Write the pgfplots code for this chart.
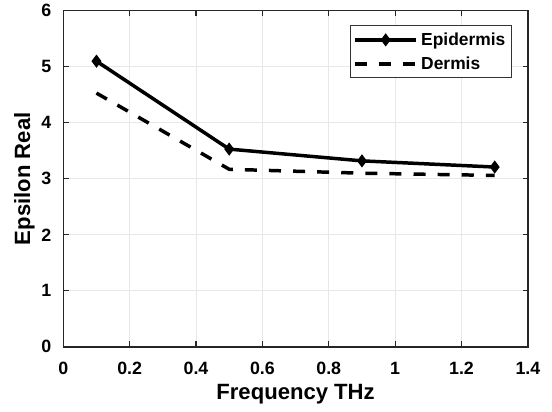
\documentclass[border=0pt]{standalone}
\usepackage{fontspec}
\setmainfont{Liberation Sans}
\usepackage{pgfplots}
\pgfplotsset{compat=1.18}
\begin{document}
\begin{tikzpicture}
\begin{axis}[
  scale only axis,
  width=347pt, height=251pt,
  xmin=0, xmax=1.4, ymin=0, ymax=6,
  xtick={0,0.2,0.4,0.6,0.8,1,1.2,1.4}, ytick={0,1,2,3,4,5,6},
  xticklabels={0,0.2,0.4,0.6,0.8,1,1.2,1.4},
  yticklabels={0,1,2,3,4,5,6},
  /pgf/number format/assume math mode=true,
  tick label style={font=\bfseries\fontsize{13.3}{15}\selectfont},
  xticklabel style={yshift=-8pt},
  yticklabel style={xshift=-5.5pt},
  label style={font=\bfseries\fontsize{16.5}{19}\selectfont},
  xlabel={Frequency THz}, ylabel={Epsilon Real},
  xlabel style={yshift=0pt},
  ylabel style={yshift=-2pt},
  grid=major,
  major grid style={gray!18, line width=0.6pt},
  axis line style={black!85, line width=1.1pt},
  tick style={black!85, line width=0.8pt},
  tick align=inside,
  major tick length=4pt,
  legend style={at={(1,1)}, xshift=-12pt, yshift=-11pt, anchor=north east, draw=black!80, line width=0.6pt,
    font=\bfseries\fontsize{13}{15}\selectfont, row sep=3pt, inner xsep=2pt, inner ysep=3pt,
    nodes={inner xsep=2.5pt}},
  legend cell align=left,
  legend image code/.code={\draw[mark repeat=2, mark phase=2, #1] plot coordinates {(0cm,0cm) (0.8cm,0cm) (1.6cm,0cm)};},
  after end axis/.code={\path (rel axis cs:0,0) ++(-47.25pt,-48.5pt); \path (rel axis cs:1,1) ++(18pt,7.5pt);},
]
\addplot[black, line width=2.6pt, mark=diamond*, mark size=2.8pt, mark options={solid}]
  coordinates {(0.1,5.10) (0.5,3.53) (0.9,3.32) (1.3,3.21)};
\addlegendentry{Epidermis}
\addplot[black, line width=2.6pt, dash pattern=on 9pt off 9pt]
  coordinates {(0.1,4.53) (0.5,3.17) (0.9,3.10) (1.3,3.06)};
\addlegendentry{Dermis}
\end{axis}
\end{tikzpicture}
\end{document}
